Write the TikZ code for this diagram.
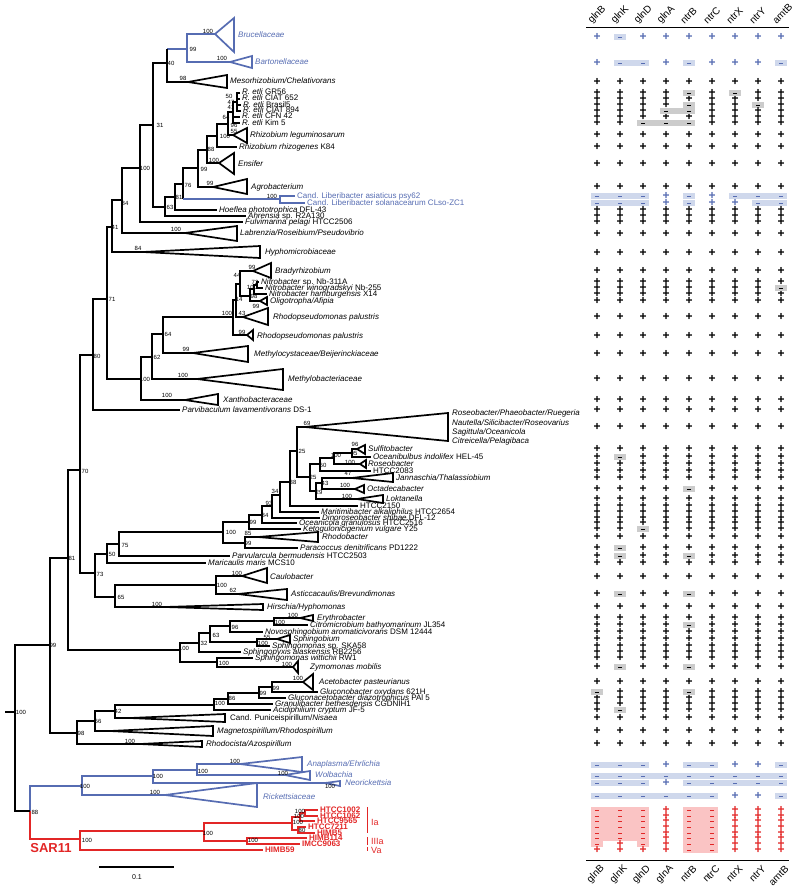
\documentclass[tikz,border=0pt]{standalone}
\usepackage{fontspec}
\setmainfont{Liberation Sans}
\definecolor{cladeblue}{RGB}{86,108,178}
\definecolor{sarred}{RGB}{226,38,38}
\definecolor{boxgray}{RGB}{204,204,204}
\definecolor{boxblue}{RGB}{207,216,236}
\definecolor{boxpink}{RGB}{250,196,196}

\tikzset{
  br/.style={line width=1.7pt},
  blu/.style={line width=1.7pt, draw=cladeblue},
  rd/.style={line width=1.7pt, draw=sarred},
  bs/.style={font=\fontsize{6}{6}\selectfont, inner sep=0pt},
  lbl/.style={font=\fontsize{8}{8}\selectfont, anchor=west, inner sep=0pt, text height=5.6pt, text depth=1.6pt},
  bluelbl/.style={lbl, text=cladeblue},
  redlbl/.style={lbl, text=sarred, font=\fontsize{8}{8}\selectfont\bfseries},
  plus/.style={font=\fontsize{12}{12}\selectfont\bfseries, inner sep=0pt},
  cellminus/.style={line width=0.9pt},
  gene/.style={font=\fontsize{10}{10}\selectfont, inner sep=0pt, rotate=45},
}

% bracket of an inner node: node, upper child, lower child
\newcommand{\clade}[4][br]{\draw[#1] (#3) -| (#2) |- (#4);}
% collapsed clade: apex, right x, top y, bottom y
\newcommand{\tri}[5][br]{\draw[#1] (#2) -- (#3,#4) -- (#3,#5) -- cycle;}
% one row of the gene table: y, codes, mark colour, box colour
\newcommand{\tabrow}[4]{%
  \edef\rowlist{#2}%
  \foreach \c [count=\i] in \rowlist {%
    \pgfmathsetmacro{\cx}{574+23*\i}%
    \if\c p\node[plus,text=#3] (c#1-\i) at (\cx,#1) {+};\fi
    \if\c m\fill[#4] (\cx-6,#1-2.7) rectangle (\cx+6,#1+2.7);
      \draw[cellminus,#3] (\cx-1.6,#1) -- (\cx+1.6,#1);\fi
    \if\c M\fill[#4] (\cx-17,#1-2.7) rectangle (\cx+6,#1+2.7);
      \draw[cellminus,#3] (\cx-1.6,#1) -- (\cx+1.6,#1);\fi
  }}

\begin{document}
\begin{tikzpicture}[x=1pt,y=-1pt]
\useasboundingbox (0,0) rectangle (800,888);

% ===== Rhizobiales =====
\coordinate (bru) at (215,34);
\coordinate (bar) at (230,62);
\coordinate (nb99) at (187,49);
\coordinate (mes) at (188,82);
\coordinate (n40) at (167,63);
\tri[blu]{bru}{234}{18}{52}
\tri[blu]{bar}{252}{56}{68}
\clade[blu]{nb99}{bru}{bar}
\tri{mes}{227}{75}{88}
\draw[blu] (nb99) -- (n40 |- nb99);
\draw[br] (n40 |- nb99) -- (n40 |- mes) -- (mes);

% R. etli group
\coordinate (e1) at (240,93);
\coordinate (e2) at (240,99);
\coordinate (e3) at (241,105);
\coordinate (e4) at (241,111);
\coordinate (e5) at (240,117);
\coordinate (e6) at (240,123);
\coordinate (eA) at (237,102);
\coordinate (eB) at (233,112);
\draw[br] (e1) -| (eA) |- (e4);
\draw[br] (eA |- e2) -- (e2);
\draw[br] (eA |- e3) -- (e3);
\draw[br] (eA) -| (eB) |- (e6);
\draw[br] (eB |- e5) -- (e5);

\coordinate (rl) at (233,135);
\coordinate (nr96) at (228,124);
\coordinate (rr) at (237,147);
\coordinate (nr100) at (217,136);
\coordinate (ens) at (219,163);
\coordinate (n88r) at (207,150);
\coordinate (agr) at (213,187);
\coordinate (n99r) at (198,168);
\coordinate (la) at (295,196);
\coordinate (ls) at (305,203);
\coordinate (lib) at (280,199);
\coordinate (n76) at (183,184);
\coordinate (hoe) at (217,210);
\coordinate (n81r) at (175,197);
\coordinate (ahr) at (246,216);
\coordinate (n63) at (165,207);
\coordinate (n31) at (153,125);
\coordinate (ful) at (243,222);
\coordinate (n100r) at (140,168);
\coordinate (lab) at (185,233);
\coordinate (n84) at (122,200);
\coordinate (hyp) at (143,252);
\coordinate (n41) at (112,227);
\tri{rl}{247}{128}{143}
\clade{nr96}{eB}{rl}
\clade{nr100}{nr96}{rr}
\tri{ens}{234}{153}{174}
\clade{n88r}{nr100}{ens}
\tri{agr}{247}{179}{194}
\clade{n99r}{n88r}{agr}
\clade[blu]{lib}{la}{ls}
\draw[br] (n99r) -| (n76) -- (n76 |- lib);
\draw[blu] (n76 |- lib) -- (lib);
\clade{n81r}{n76}{hoe}
\clade{n63}{n81r}{ahr}
\clade{n31}{n40}{n63}
\clade{n100r}{n31}{ful}
\tri{lab}{237}{226}{241}
\clade{n84}{n100r}{lab}
\tri{hyp}{260}{246}{258}
\clade{n41}{n84}{hyp}

% Bradyrhizobiaceae and relatives
\coordinate (bra) at (253,271);
\coordinate (nb311) at (259,282);
\coordinate (nb255) at (263,288);
\coordinate (x14) at (267,294);
\coordinate (oli) at (260,301);
\coordinate (nN1) at (257,285);
\coordinate (nN2) at (254,289);
\coordinate (nN3) at (250,296);
\coordinate (n44) at (240,284);
\coordinate (rp1) at (243,317);
\coordinate (n43) at (236,300);
\coordinate (rp2) at (247,335);
\coordinate (nBR) at (233,317);
\coordinate (mcy) at (193,353);
\coordinate (n64) at (163,334);
\coordinate (mby) at (197,379);
\coordinate (n62) at (152,357);
\coordinate (xan) at (185,400);
\coordinate (n100b) at (141,379);
\coordinate (n71) at (107,299);
\coordinate (par) at (180,410);
\coordinate (n80) at (93,355);
\tri{bra}{271}{263}{278}
\tri{oli}{267}{297}{305}
\clade{nN1}{nb311}{nb255}
\clade{nN2}{nN1}{x14}
\clade{nN3}{nN2}{oli}
\clade{n44}{bra}{nN3}
\tri{rp1}{268}{308}{325}
\clade{n43}{n44}{rp1}
\tri{rp2}{253}{330}{340}
\clade{nBR}{n43}{rp2}
\tri{mcy}{248}{346}{362}
\clade{n64}{nBR}{mcy}
\tri{mby}{283}{369}{390}
\clade{n62}{n64}{mby}
\tri{xan}{218}{394}{405}
\clade{n100b}{n62}{xan}
\clade{n71}{n41}{n100b}
\clade{n80}{n71}{par}

% ===== Rhodobacterales, Caulobacterales =====
\coordinate (ros) at (305,427);
\coordinate (sul) at (357,449);
\coordinate (oce) at (371,457);
\coordinate (n95) at (352,453);
\coordinate (rsb) at (360,464);
\coordinate (n100x) at (334,458);
\coordinate (h83) at (371,471);
\coordinate (n60) at (320,464);
\coordinate (jan) at (352,478);
\coordinate (oct) at (355,489);
\coordinate (n43b) at (322,483);
\coordinate (lok) at (357,499);
\coordinate (n29) at (316,491);
\coordinate (n25b) at (310,477);
\coordinate (n25a) at (297,451);
\coordinate (h50) at (358,506);
\coordinate (n38) at (290,482);
\coordinate (mar) at (319,512);
\coordinate (n34) at (280,495);
\coordinate (din) at (320,518);
\coordinate (n93) at (272,506);
\coordinate (ocg) at (297,523);
\coordinate (n84b) at (262,515);
\coordinate (ket) at (301,529);
\coordinate (n99a) at (249,522);
\coordinate (rba) at (258,537);
\coordinate (pcd) at (298,548);
\coordinate (n99b) at (245,543);
\coordinate (nRB) at (223,532);
\coordinate (pvl) at (230,556);
\coordinate (n75) at (119,544);
\coordinate (mcs) at (206,563);
\coordinate (n50) at (107,554);
\coordinate (cau) at (242,576);
\coordinate (ast) at (238,594);
\coordinate (n100c) at (216,585);
\coordinate (hir) at (165,607);
\coordinate (n65) at (115,597);
\coordinate (n73) at (95,573);
\coordinate (n70) at (80,470);
\tri{ros}{448}{413}{441}
\tri{sul}{365}{445}{454}
\clade{n95}{sul}{oce}
\tri{rsb}{366}{460}{468}
\clade{n100x}{n95}{rsb}
\clade{n60}{n100x}{h83}
\tri{jan}{393}{473}{482}
\tri{oct}{364}{485}{493}
\clade{n43b}{jan}{oct}
\tri{lok}{383}{495}{503}
\clade{n29}{n43b}{lok}
\clade{n25b}{n60}{n29}
\clade{n25a}{ros}{n25b}
\clade{n38}{n25a}{h50}
\clade{n34}{n38}{mar}
\clade{n93}{n34}{din}
\clade{n84b}{n93}{ocg}
\clade{n99a}{n84b}{ket}
\tri{rba}{318}{532}{542}
\clade{n99b}{rba}{pcd}
\clade{nRB}{n99a}{n99b}
\clade{n75}{nRB}{pvl}
\clade{n50}{n75}{mcs}
\tri{cau}{267}{568}{583}
\tri{ast}{287}{589}{600}
\clade{n100c}{cau}{ast}
\tri{hir}{263}{604}{610}
\clade{n65}{n100c}{hir}
\clade{n73}{n50}{n65}
\clade{n70}{n80}{n73}

% ===== Sphingomonadales =====
\coordinate (ery) at (300,618);
\coordinate (cit) at (308,625);
\coordinate (n100e) at (274,621);
\coordinate (nov) at (263,632);
\coordinate (n96) at (230,626);
\coordinate (sgb) at (277,639);
\coordinate (ska) at (270,646);
\coordinate (nsph) at (257,642);
\coordinate (n63s) at (210,633);
\coordinate (spx) at (241,652);
\coordinate (n32) at (199,643);
\coordinate (swi) at (253,658);
\coordinate (zym) at (293,667);
\coordinate (n100z) at (217,662);
\coordinate (n100s) at (180,650);
\tri{ery}{313}{615}{621}
\clade{n100e}{ery}{cit}
\clade{n96}{n100e}{nov}
\tri{sgb}{290}{635}{643}
\clade{nsph}{sgb}{ska}
\clade{n63s}{n96}{nsph}
\clade{n32}{n63s}{spx}
\tri{zym}{298}{661}{673}
\clade{n100z}{swi}{zym}
\clade{n100s}{n32}{n100z}

% ===== Rhodospirillales =====
\coordinate (ace) at (303,682);
\coordinate (glu) at (318,692);
\coordinate (n99g) at (272,687);
\coordinate (gla) at (286,698);
\coordinate (n99h) at (259,693);
\coordinate (gra) at (273,704);
\coordinate (n86) at (228,699);
\coordinate (acd) at (271,710);
\coordinate (n100ac) at (214,705);
\coordinate (pun) at (130,718);
\coordinate (n42) at (115,711);
\coordinate (mag) at (110,731);
\coordinate (n66) at (95,721);
\coordinate (rho) at (140,744);
\coordinate (n98) at (77,733);
\coordinate (n81) at (68,558);
\coordinate (n99) at (50,645);
\tri{ace}{313}{674}{690}
\clade{n99g}{ace}{glu}
\clade{n99h}{n99g}{gla}
\clade{n86}{n99h}{gra}
\clade{n100ac}{n86}{acd}
\tri{pun}{225}{714}{722}
\clade{n42}{n100ac}{pun}
\tri{mag}{213}{726}{736}
\clade{n66}{n42}{mag}
\tri{rho}{202}{741}{747}
\clade{n98}{n66}{rho}
\clade{n81}{n70}{n100s}
\clade{n99}{n81}{n98}

% ===== Rickettsiales and SAR11 =====
\coordinate (ana) at (240,764);
\coordinate (wol) at (285,775);
\coordinate (nr3) at (197,770);
\coordinate (neo) at (325,783);
\coordinate (nr2) at (153,776);
\coordinate (ric) at (165,795);
\coordinate (nr1) at (82,786);
\tri[blu]{ana}{302}{757}{772}
\tri[blu]{wol}{310}{771}{780}
\clade[blu]{nr3}{ana}{wol}
\tri[blu]{neo}{340}{781}{786}
\clade[blu]{nr2}{nr3}{neo}
\tri[blu]{ric}{257}{783}{807}
\clade[blu]{nr1}{nr2}{ric}

\coordinate (h1002) at (318,810);
\coordinate (h1062) at (318,816);
\coordinate (h9565) at (315,821);
\coordinate (h7211) at (306,827);
\coordinate (himb5) at (315,833);
\coordinate (himb114) at (307,838);
\coordinate (imcc) at (300,844);
\coordinate (himb59) at (263,850);
\coordinate (na) at (305,813);
\coordinate (nb) at (300,817);
\coordinate (n80s) at (298,830);
\coordinate (n100b2) at (292,823);
\coordinate (n100c2) at (247,841);
\coordinate (nIa) at (204,831);
\coordinate (nsar) at (80,839);
\clade[rd]{na}{h1002}{h1062}
\clade[rd]{nb}{na}{h9565}
\clade[rd]{n80s}{h7211}{himb5}
\clade[rd]{n100b2}{nb}{n80s}
\clade[rd]{n100c2}{himb114}{imcc}
\clade[rd]{nIa}{n100b2}{n100c2}
\clade[rd]{nsar}{nIa}{himb59}

\coordinate (n88) at (30,811);
\coordinate (root) at (15,712);
\draw[blu] (nr1) -| (n88);
\draw[rd] (n88) |- (nsar);
\draw[br] (n99) -| (root) |- (n88);
\draw[br] (root) -- ++(-10,0);

% clade bars
\draw[sarred, line width=1pt] (367,807) -- (367,833) (367,837) -- (367,845) (367,847) -- (367,851);
\node[text=sarred, font=\fontsize{9}{9}\selectfont, anchor=west, inner sep=0pt] (tIa) at (371,822) {Ia};
\node[text=sarred, font=\fontsize{9}{9}\selectfont, anchor=west, inner sep=0pt] (tIIIa) at (371,841) {IIIa};
\node[text=sarred, font=\fontsize{9}{9}\selectfont, anchor=west, inner sep=0pt] (tVa) at (371,850) {Va};
\node[text=sarred, font=\fontsize{13}{13}\selectfont\bfseries, inner sep=0pt] (tsar) at (51,848) {SAR11};

% scale bar
\coordinate (sbl) at (99,867);
\coordinate (sbr) at (174,867);
\draw[line width=1.4pt] (sbl) -- (sbr);
\node[font=\fontsize{7}{7}\selectfont, inner sep=0pt] (sbt) at (137,877) {0.1};

% ===== bootstrap values =====
\foreach \x/\y/\v [count=\k] in {
  208/31/100, 193/49/99, 222/58/100, 171/63/40, 183/78/98,
  229/96/50, 231/102/47, 231/107/41, 226/117/64, 234/125/96, 234/131/55,
  225/136/100, 211/149/88, 214/160/100, 204/169/99, 210/183/99, 188/185/76,
  272/196/100, 179/197/81, 170/207/63, 160/125/31, 145/168/100, 125/203/84,
  176/229/100, 115/227/41, 138/248/84, 112/299/71, 97/356/80,
  237/275/44, 252/267/99, 255/282/72, 252/287/100, 254/296/98, 239/299/14,
  256/306/99, 242/313/43, 227/313/100, 242/332/99,
  168/334/64, 157/357/62, 145/379/100, 183/375/100, 186/349/99, 167/395/100,
  85/471/70, 72/558/81, 100/574/73, 112/554/50, 125/545/75, 231/532/100,
  253/522/99, 265/515/84, 269/503/93, 275/491/34, 293/482/38, 302/451/25,
  307/423/69, 323/465/60, 313/477/25, 325/483/43, 319/492/29,
  355/444/96, 354/453/95, 336/455/100, 350/462/100, 348/473/47, 345/485/100, 347/496/100,
  248/533/85, 248/543/99,
  121/597/65, 237/573/100, 222/585/100, 233/590/62, 157/604/100,
  293/615/100, 280/622/100, 235/627/96, 216/635/63, 204/643/32, 184/648/100,
  267/637/55, 263/643/100, 224/663/100, 287/664/100,
  298/678/100, 276/688/99, 263/693/99, 232/698/86, 220/703/100,
  118/711/42, 98/721/66, 81/733/98, 130/741/100, 53/645/99, 21/712/100,
  35/812/88, 85/786/100, 158/776/100, 203/771/100, 235/761/100, 283/773/100,
  330/786/100, 155/792/100,
  87/840/100, 208/833/100, 253/840/100, 298/822/100, 300/811/100, 299/816/100, 302/830/80}
  \node[bs] (bs\k) at (\x,\y) {\v};

% ===== taxon labels =====
\foreach \x/\y/\t [count=\k] in {
  230/82/{\textit{Mesorhizobium/Chelativorans}},
  242/93/{\textit{R. etli} GR56},
  242/99/{\textit{R. etli} CIAT 652},
  243/105/{\textit{R. etli} Brasil5},
  243/111/{\textit{R. etli} CIAT 894},
  242/117/{\textit{R. etli} CFN 42},
  242/123/{\textit{R. etli} Kim 5},
  250/135/{\textit{Rhizobium leguminosarum}},
  239/147/{\textit{Rhizobium rhizogenes} K84},
  238/164/{\textit{Ensifer}},
  251/187/{\textit{Agrobacterium}},
  219/210/{\textit{Hoeflea phototrophica} DFL-43},
  248/216/{\textit{Ahrensia} sp. R2A130},
  245/222/{\textit{Fulvimarina pelagi} HTCC2506},
  240/233/{\textit{Labrenzia/Roseibium/Pseudovibrio}},
  265/252/{\textit{Hyphomicrobiaceae}},
  275/271/{\textit{Bradyrhizobium}},
  261/282/{\textit{Nitrobacter} sp. Nb-311A},
  265/288/{\textit{Nitrobacter winogradskyi} Nb-255},
  269/294/{\textit{Nitrobacter hamburgensis} X14},
  270/301/{\textit{Oligotropha/Afipia}},
  273/317/{\textit{Rhodopseudomonas palustris}},
  257/336/{\textit{Rhodopseudomonas palustris}},
  254/354/{\textit{Methylocystaceae/Beijerinckiaceae}},
  288/379/{\textit{Methylobacteriaceae}},
  223/400/{\textit{Xanthobacteraceae}},
  182/410/{\textit{Parvibaculum lavamentivorans} DS-1},
  452/413/{\textit{Roseobacter/Phaeobacter/Ruegeria}},
  452/423/{\textit{Nautella/Silicibacter/Roseovarius}},
  452/432/{\textit{Sagittula/Oceanicola}},
  452/441/{\textit{Citreicella/Pelagibaca}},
  368/449/{\textit{Sulfitobacter}},
  373/457/{\textit{Oceanibulbus indolifex} HEL-45},
  368/464/{\textit{Roseobacter}},
  373/471/{HTCC2083},
  396/478/{\textit{Jannaschia/Thalassiobium}},
  367/489/{\textit{Octadecabacter}},
  386/499/{\textit{Loktanella}},
  360/506/{HTCC2150},
  321/512/{\textit{Maritimibacter alkaliphilus} HTCC2654},
  322/518/{\textit{Dinoroseobacter shibae} DFL-12},
  299/523/{\textit{Oceanicola granulosus} HTCC2516},
  303/529/{\textit{Ketogulonicigenium vulgare} Y25},
  322/537/{\textit{Rhodobacter}},
  300/548/{\textit{Paracoccus denitrificans} PD1222},
  232/556/{\textit{Parvularcula bermudensis} HTCC2503},
  208/563/{\textit{Maricaulis maris} MCS10},
  270/577/{\textit{Caulobacter}},
  291/594/{\textit{Asticcacaulis/Brevundimonas}},
  267/607/{\textit{Hirschia/Hyphomonas}},
  317/618/{\textit{Erythrobacter}},
  310/625/{\textit{Citromicrobium bathyomarinum} JL354},
  265/632/{\textit{Novosphingobium aromaticivorans} DSM 12444},
  293/639/{\textit{Sphingobium}},
  272/646/{\textit{Sphingomonas} sp. SKA58},
  243/652/{\textit{Sphingopyxis alaskensis} RB2256},
  255/658/{\textit{Sphingomonas wittichii} RW1},
  310/667/{\textit{Zymomonas mobilis}},
  319/682/{\textit{Acetobacter pasteurianus}},
  320/692/{\textit{Gluconobacter oxydans} 621H},
  288/698/{\textit{Gluconacetobacter diazotrophicus} PAl 5},
  275/704/{\textit{Granulibacter bethesdensis} CGDNIH1},
  273/710/{\textit{Acidiphilium cryptum} JF-5},
  230/718/{Cand. Puniceispirillum/\textit{Nisaea}},
  217/731/{\textit{Magnetospirillum/Rhodospirillum}},
  206/744/{\textit{Rhodocista/Azospirillum}}}
  \node[lbl] (tx\k) at (\x,\y) {\t};

\foreach \x/\y/\t [count=\k] in {
  238/36/{\textit{Brucellaceae}},
  255/63/{\textit{Bartonellaceae}},
  297/196/{Cand. Liberibacter asiaticus psy62},
  307/203/{Cand. Liberibacter solanacearum CLso-ZC1},
  307/764/{\textit{Anaplasma/Ehrlichia}},
  315/775/{\textit{Wolbachia}},
  345/783/{\textit{Neorickettsia}},
  263/797/{\textit{Rickettsiaceae}}}
  \node[bluelbl] (tb\k) at (\x,\y) {\t};

\foreach \x/\y/\t [count=\k] in {
  320/810/HTCC1002, 320/816/HTCC1062, 317/821/HTCC9565, 308/827/HTCC7211,
  317/833/HIMB5, 309/838/HIMB114, 302/844/IMCC9063, 265/850/HIMB59}
  \node[redlbl] (tr\k) at (\x,\y) {\t};

% ===== gene table =====
\draw[line width=1pt] (586,28) -- (789,28);
\draw[line width=1pt] (586,860) -- (789,860);
\foreach \g [count=\i] in {glnB,glnK,glnD,glnA,ntrB,ntrC,ntrX,ntrY,amtB} {
  \pgfmathsetmacro{\gx}{574+23*\i}
  \node[gene, anchor=west] (gt\i) at (\gx-7,22) {\g};
  \node[gene, anchor=east] (gb\i) at (\gx+6,867) {\g};
}

% blue rows
\tabrow{37}{p,m,p,p,p,p,p,p,p}{cladeblue}{boxblue}
\tabrow{63}{p,m,M,p,m,p,p,p,m}{cladeblue}{boxblue}
\tabrow{196}{m,M,M,p,m,p,m,M,M}{cladeblue}{boxblue}
\tabrow{203}{m,M,M,p,m,p,p,m,M}{cladeblue}{boxblue}
\tabrow{765}{m,M,M,p,m,M,p,p,m}{cladeblue}{boxblue}
\tabrow{776}{m,M,M,M,M,M,M,M,M}{cladeblue}{boxblue}
\tabrow{783}{m,M,M,p,m,M,M,M,M}{cladeblue}{boxblue}
\tabrow{796}{m,M,M,M,M,M,p,p,m}{cladeblue}{boxblue}

% black rows
\foreach \y in {82,99,117,135,147,164,187,210,216,222,234,253,271,282,294,301,
  317,336,354,379,400,410,427,449,464,471,478,499,506,512,518,523,537,563,577,
  607,618,632,639,646,652,658,682,698,704,718,731,744}
  {\tabrow{\y}{p,p,p,p,p,p,p,p,p}{black}{boxgray}}
\tabrow{93}{p,p,p,p,m,p,m,p,p}{black}{boxgray}
\tabrow{105}{p,p,p,p,m,p,p,m,p}{black}{boxgray}
\tabrow{111}{p,p,p,m,M,p,p,p,p}{black}{boxgray}
\tabrow{123}{p,p,m,M,M,p,p,p,p}{black}{boxgray}
\tabrow{288}{p,p,p,p,p,p,p,p,m}{black}{boxgray}
\tabrow{457}{p,m,p,p,p,p,p,p,p}{black}{boxgray}
\tabrow{489}{p,p,p,p,m,p,p,p,p}{black}{boxgray}
\tabrow{529}{p,p,m,p,p,p,p,p,p}{black}{boxgray}
\tabrow{548}{p,m,p,p,p,p,p,p,p}{black}{boxgray}
\tabrow{556}{p,m,p,p,m,p,p,p,p}{black}{boxgray}
\tabrow{594}{p,m,p,p,m,p,p,p,p}{black}{boxgray}
\tabrow{625}{p,p,p,p,m,p,p,p,p}{black}{boxgray}
\tabrow{667}{p,m,p,p,m,p,p,p,p}{black}{boxgray}
\tabrow{692}{m,p,p,p,m,p,p,p,p}{black}{boxgray}
\tabrow{710}{p,m,p,p,p,p,p,p,p}{black}{boxgray}

% red rows
\foreach \y in {810,816,821,827,833,838}
  {\tabrow{\y}{m,M,M,p,m,M,p,p,p}{sarred}{boxpink}}
\tabrow{844}{m,p,m,p,m,M,p,p,p}{sarred}{boxpink}
\tabrow{850}{p,p,p,p,m,M,p,p,p}{sarred}{boxpink}
\end{tikzpicture}
\end{document}
